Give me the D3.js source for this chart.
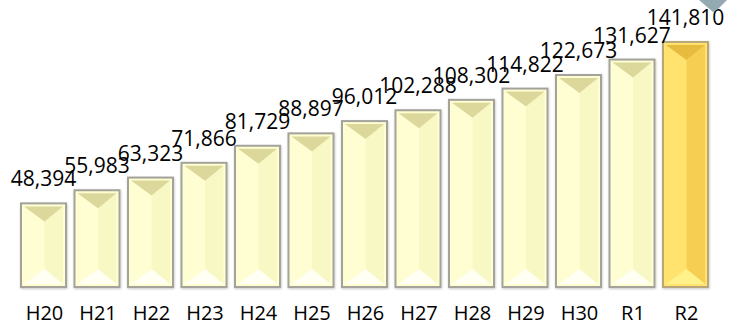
<!DOCTYPE html>
<html>
<head>
<meta charset="utf-8">
<script src="https://cdn.jsdelivr.net/npm/d3@7"></script>
<style>
  html, body { margin: 0; padding: 0; background: #fff; }
  svg { display: block; }
  text { font-family: "Open Sans", "Noto Sans", sans-serif; fill: #000; }
</style>
</head>
<body>
<svg id="chart" width="729" height="326"></svg>
<script>
// Fiscal years (Heisei 20 – Reiwa 2) and their values
const categories = ["H20", "H21", "H22", "H23", "H24", "H25", "H26", "H27", "H28", "H29", "H30", "R1", "R2"];
const values = [48394, 55983, 63323, 71866, 81729, 88897, 96012, 102288, 108302, 114822, 122673, 131627, 141810];
const highlight = "R2";

const data = categories.map((c, i) => ({ cat: c, val: values[i] }));

const svg = d3.select("#chart");

const x = d3.scaleBand()
  .domain(categories)
  .range([16.75, 712.25])
  .paddingInner(0.159)
  .paddingOuter(0.0795);

const y = d3.scaleLinear()
  .domain([0, 150000])
  .range([287, 27.8]);

// bevel palettes: plain bars vs. the highlighted latest year
const palettes = {
  plain: { border: "#a3a39b", left: "#fefed2", right: "#f8f8c4", top: "#dcd89c", bottom: "#fffff4" },
  hot:   { border: "#b9a77a", left: "#ffe36e", right: "#f6cf52", top: "#e6bb3e", bottom: "#fff28a" }
};

const defs = svg.append("defs");
const f = defs.append("filter").attr("id", "shadow").attr("x", "-20%").attr("y", "-10%").attr("width", "140%").attr("height", "120%");
f.append("feDropShadow").attr("dx", 0.5).attr("dy", 1).attr("stdDeviation", 1.2).attr("flood-color", "#000").attr("flood-opacity", 0.22);

const bars = svg.append("g").selectAll("g.bar")
  .data(data)
  .join("g")
  .attr("class", "bar");

bars.each(function(d) {
  const g = d3.select(this);
  const p = d.cat === highlight ? palettes.hot : palettes.plain;
  const x0 = x(d.cat), x1 = x0 + x.bandwidth();
  const y0 = y(d.val), y1 = y(0);
  const cx = (x0 + x1) / 2 + 1;
  const ins = 3;
  const ix0 = x0 + ins, ix1 = x1 - ins, iy0 = y0 + ins, iy1 = y1 - ins;
  const depth = 15;

  // outer frame
  g.append("rect")
    .attr("x", x0).attr("y", y0)
    .attr("width", x1 - x0).attr("height", y1 - y0)
    .attr("fill", p.left)
    .attr("stroke", p.border).attr("stroke-width", 2)
    .attr("filter", "url(#shadow)");

  // right facet (slightly shaded)
  g.append("polygon")
    .attr("points", [[cx, iy0 + depth], [ix1, iy0], [ix1, iy1], [cx, iy1 - depth]].map(q => q.join(",")).join(" "))
    .attr("fill", p.right);

  // top bevel
  g.append("polygon")
    .attr("points", [[ix0, iy0], [ix1, iy0], [cx, iy0 + depth]].map(q => q.join(",")).join(" "))
    .attr("fill", p.top);

  // bottom bevel
  g.append("polygon")
    .attr("points", [[ix0, iy1], [ix1, iy1], [cx, iy1 - depth]].map(q => q.join(",")).join(" "))
    .attr("fill", p.bottom);
});

// value labels above each bar
svg.append("g").selectAll("text")
  .data(data)
  .join("text")
  .attr("x", d => x(d.cat) + x.bandwidth() / 2)
  .attr("y", d => y(d.val) - 17)
  .attr("text-anchor", "middle")
  .attr("font-size", 21)
  .text(d => d3.format(",")(d.val));

// category axis labels
const xAxis = d3.axisBottom(x).tickSize(0).tickPadding(0);
const ax = svg.append("g").attr("transform", "translate(1,306)").call(xAxis);
ax.select(".domain").remove();
ax.selectAll("text")
  .attr("font-size", 20)
  .attr("font-family", "'Open Sans', 'Noto Sans', sans-serif")
  .attr("fill", "#000");

// partial callout arrow at the top right
svg.append("polygon")
  .attr("points", "699,0 727,0 718,9 713,12")
  .attr("fill", "#93aab2");
</script>
</body>
</html>
